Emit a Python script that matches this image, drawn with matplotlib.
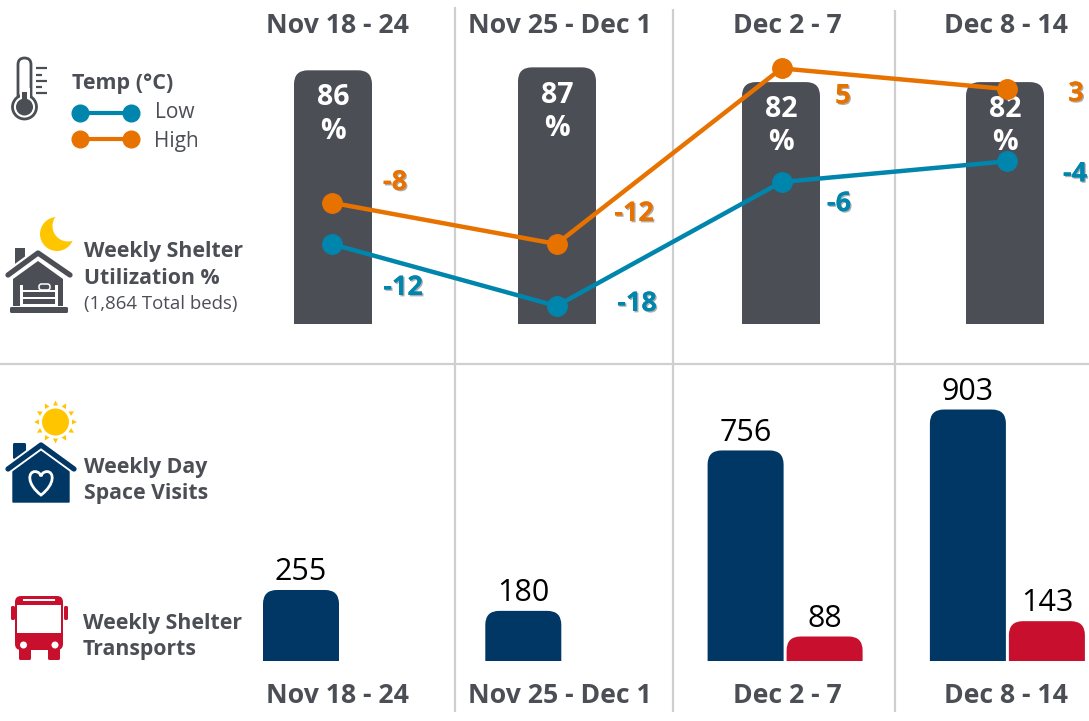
import numpy as np
import matplotlib
matplotlib.use("Agg")
import matplotlib.pyplot as plt
import matplotlib.patheffects as pe
from matplotlib.path import Path
from matplotlib.patches import PathPatch, Circle, Polygon, FancyBboxPatch, Rectangle

plt.rcParams['font.family'] = ['Open Sans', 'DejaVu Sans']

# data
weeks = ["Nov 18 - 24", "Nov 25 - Dec 1", "Dec 2 - 7", "Dec 8 - 14"]
utilization = [86, 87, 82, 82]
temp_low = [-12, -18, -6, -4]
temp_high = [-8, -12, 5, 3]
day_visits = [255, 180, 756, 903]
transports = [None, None, 88, 143]

# colours
GREY = "#4b4e55"
NAVY = "#003764"
RED = "#c8102e"
TEAL = "#0085ad"
ORANGE = "#e87200"
YELLOW = "#ffc600"
RULE = "#cfcfcf"

W, H = 1089, 721
fig = plt.figure(figsize=(W / 100, H / 100), dpi=100)


def px_axes(top, bottom, x0, step, ylim):
    # axes spanning the full width, between two pixel rows
    ax = fig.add_axes([0, 1 - bottom / H, 1, (bottom - top) / H])
    ax.set_xlim(-x0 / step, (W - x0) / step)
    ax.set_ylim(*ylim)
    ax.axis("off")
    ax.patch.set_alpha(0)
    return ax


def round_bar(ax, x, value, width_px, color, r_px=14):
    sx = ax.transData.transform((1, 0))[0] - ax.transData.transform((0, 0))[0]
    sy = ax.transData.transform((0, 1))[1] - ax.transData.transform((0, 0))[1]
    hw = width_px / 2 / sx
    rx = r_px / sx
    ry = r_px / sy
    verts = [(x - hw, 0), (x - hw, value - ry), (x - hw, value), (x - hw + rx, value),
             (x + hw - rx, value), (x + hw, value), (x + hw, value - ry), (x + hw, 0), (x - hw, 0)]
    codes = [Path.MOVETO, Path.LINETO, Path.CURVE3, Path.CURVE3,
             Path.LINETO, Path.CURVE3, Path.CURVE3, Path.LINETO, Path.CLOSEPOLY]
    ax.add_patch(PathPatch(Path(verts, codes), fc=color, ec="none", clip_on=False))


# background layer in pixel coordinates: rules, headers, icons, left labels
bg = fig.add_axes([0, 0, 1, 1])
bg.set_xlim(0, W)
bg.set_ylim(H, 0)
bg.axis("off")

for x, y0 in zip([455, 673, 895], [7, 9, 10]):
    bg.plot([x, x], [y0, 712], color=RULE, lw=1.6, solid_capstyle="butt")
bg.plot([0, W], [364, 364], color=RULE, lw=1.6, solid_capstyle="butt")

head_x = [337, 560, 787, 1006]
for x, w in zip(head_x, weeks):
    bg.text(x, 26, w, ha="center", va="center", fontsize=19.2, fontweight="bold", color=GREY)
    bg.text(x, 696, w, ha="center", va="center", fontsize=19.2, fontweight="bold", color=GREY)


def label(x, y, s, weight="bold", size=15.3, color=GREY):
    bg.text(x, y + 2, s, ha="left", va="center", fontsize=size, fontweight=weight, color=color)


label(72, 82, "Temp (°C)", size=15.5)
label(155, 111, "Low", weight="normal", size=15)
label(154, 139, "High", weight="normal", size=15)
label(84, 250, "Weekly Shelter")
label(84, 276, "Utilization %")
label(84, 302, "(1,864 Total beds)", weight="normal", size=13.4)
label(84, 466, "Weekly Day")
label(84, 492, "Space Visits")
label(83, 622, "Weekly Shelter")
label(83, 648, "Transports")

# legend keys
for y, c in [(113, TEAL), (139, ORANGE)]:
    bg.plot([80, 131], [y, y], color=c, lw=3, marker="o", ms=12, mec=c, mfc=c)

# thermometer
bg.add_patch(FancyBboxPatch((18, 58), 13, 44, boxstyle="round,pad=0,rounding_size=6.5",
                            fc="white", ec=GREY, lw=2))
bg.add_patch(Circle((24.5, 107), 12, fc="white", ec=GREY, lw=2))
bg.add_patch(Rectangle((19.5, 88), 10, 14, fc="white", ec="none"))
bg.add_patch(Circle((24.5, 107), 8.5, fc=GREY, ec="none"))
bg.add_patch(Rectangle((22, 92), 5, 12, fc=GREY, ec="none"))
for y, x1 in zip([68, 75, 81, 87, 93], [47, 42, 47, 42, 47]):
    bg.plot([36, x1], [y, y], color=GREY, lw=1.6, solid_capstyle="butt")

# moon
bg.add_patch(Circle((57, 234), 17, fc=YELLOW, ec="none"))
bg.add_patch(Circle((68, 226), 15.5, fc="white", ec="none"))


def heart(cx, cy, s):
    v = np.array([(0, 1), (-1.2, 0.1), (-1.1, -0.95), (-0.5, -0.95), (-0.2, -0.95), (0, -0.7), (0, -0.55),
                  (0, -0.7), (0.2, -0.95), (0.5, -0.95), (1.1, -0.95), (1.2, 0.1), (0, 1), (0, 1)]) * s
    v += (cx, cy)
    c = [Path.MOVETO] + [Path.CURVE4] * 12 + [Path.CLOSEPOLY]
    return Path(v, c)


# shelter house
bg.add_patch(Rectangle((15, 248), 10, 16, fc=GREY, ec="none"))
bg.plot([8, 38, 70], [275, 253, 275], color="white", lw=7, solid_capstyle="butt", solid_joinstyle="miter")
bg.plot([8, 38, 70], [275, 253, 275], color=GREY, lw=3.8, solid_capstyle="round", solid_joinstyle="round")
bg.add_patch(Polygon([(13, 306), (13, 279), (38, 261), (63, 279), (63, 306)], fc=GREY, ec="none"))
bg.add_patch(FancyBboxPatch((10, 307), 58, 6, boxstyle="round,pad=0,rounding_size=1.5", fc=GREY, ec="none"))
# bed frame
for x in [20, 55]:
    bg.add_patch(Rectangle((x, 285), 3, 21, fc="white", ec="none"))
for y in [289.5, 296.5, 303.5]:
    bg.add_patch(Rectangle((23, y), 32, 2.5, fc="white", ec="none"))
bg.add_patch(FancyBboxPatch((39, 284), 11, 6, boxstyle="round,pad=0,rounding_size=2.5", fc="none", ec="white", lw=1.1))

# sun
bg.add_patch(Circle((55.5, 422), 13.5, fc=YELLOW, ec="none"))
for a in np.arange(0, 360, 30):
    t = np.radians(a)
    p = np.array([np.cos(t), np.sin(t)])
    n = np.array([-p[1], p[0]])
    c0 = np.array([55.5, 422])
    bg.add_patch(Polygon([c0 + p * 21.5, c0 + p * 16.5 + n * 2.5, c0 + p * 16.5 - n * 2.5],
                         fc=YELLOW, ec="none"))

# day space house
bg.add_patch(FancyBboxPatch((13, 443), 13, 16, boxstyle="round,pad=0,rounding_size=1.5", fc=NAVY, ec="none"))
bg.plot([8, 41, 74], [469, 445, 469], color="white", lw=6.5, solid_capstyle="butt", solid_joinstyle="miter")
bg.plot([8, 41, 74], [469, 445, 469], color=NAVY, lw=3.8, solid_capstyle="round", solid_joinstyle="round")
bg.add_patch(Polygon([(13, 502), (13, 470.5), (41, 451), (69, 470.5), (69, 502)], fc=NAVY, ec=NAVY, lw=1, joinstyle="round"))
bg.add_patch(PathPatch(heart(41, 483, 12), fc="none", ec="white", lw=2))

# bus
bg.add_patch(FancyBboxPatch((15, 596), 48, 54, boxstyle="round,pad=0,rounding_size=6", fc=RED, ec="none"))
bg.add_patch(Rectangle((17, 605), 44, 28, fc="white", ec="none"))
bg.add_patch(Rectangle((23, 598.5), 32, 2, fc="white", ec="none"))
for x in [11, 64]:
    bg.add_patch(FancyBboxPatch((x, 606), 4, 14, boxstyle="round,pad=0,rounding_size=1.5", fc=RED, ec="none"))
for x in [19, 48]:
    bg.add_patch(FancyBboxPatch((x, 646), 12, 14, boxstyle="round,pad=0,rounding_size=1.5", fc=RED, ec="none"))
for x in [23.5, 55]:
    bg.add_patch(Circle((x, 645), 3.5, fc="white", ec="none"))

# utilization bars, baseline at row 324, 2.95 px per percent
ax_util = px_axes(0, 324, 333, 224, (0, 324 / 2.95))
for i, v in enumerate(utilization):
    round_bar(ax_util, i, v, 78, GREY)
    ax_util.annotate(f"{v}\n%", (i, v), xytext=(0, -9.5), textcoords="offset points", ha="center", va="top",
                     fontsize=20.5, fontweight="bold", color="white", linespacing=1.19)

# temperature lines on their own scale, 10.33 px per degree
px_deg = 10.33
ax_temp = px_axes(0, 324, 331.5, 225, (-12 - 80 / px_deg, -12 + 244 / px_deg))
xs = np.arange(len(weeks))
ax_temp.plot(xs, temp_low, color=TEAL, lw=3.2, marker="o", ms=14, mec=TEAL, mfc=TEAL, clip_on=False)
ax_temp.plot(xs, temp_high, color=ORANGE, lw=3.2, marker="o", ms=14, mec=ORANGE, mfc=ORANGE, clip_on=False)

shadow = [pe.withSimplePatchShadow(offset=(1, -1), shadow_rgbFace="#777777", alpha=0.6), pe.Normal()]
low_off = [(71.5, -44), (80.5, 2), (57.5, -22), (68.5, -13)]
high_off = [(63.5, 20), (77.5, 30), (61.5, -28), (69.5, -5)]
for vals, offs, c in [(temp_low, low_off, TEAL), (temp_high, high_off, ORANGE)]:
    for i, (v, off) in enumerate(zip(vals, offs)):
        t = ax_temp.annotate(str(v), (i, v), xytext=(off[0] * 0.72, off[1] * 0.72), textcoords="offset points",
                             ha="center", va="center", fontsize=19.5, fontweight="bold", color=c)
        t.set_path_effects(shadow)

# lower panel, baseline at row 661, 0.2785 px per visit
ax_low = px_axes(364, 661, 301, 222.3, (0, 297 / 0.2785))
red_shift = 79 / 222.3
for i, v in enumerate(day_visits):
    round_bar(ax_low, i, v, 76, NAVY)
    ax_low.annotate(str(v), (i, v), xytext=(0, 2), textcoords="offset points", ha="center", va="bottom",
                    fontsize=22, color="black")
for i, v in enumerate(transports):
    if v is None:
        continue
    round_bar(ax_low, i + red_shift, v, 76, RED)
    ax_low.annotate(str(v), (i + red_shift, v), xytext=(0, 2), textcoords="offset points", ha="center",
                    va="bottom", fontsize=22, color="black")

plt.savefig("out.png", dpi=100)
